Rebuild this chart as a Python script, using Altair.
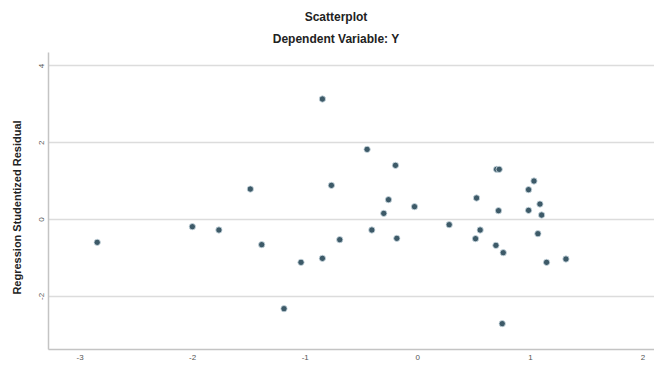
import altair as alt
import pandas as pd

x_vals = [-0.843, -1.483, -0.763, -2.843, -1.998, -1.762, -1.382, -0.689, -1.033, -0.843, -1.184,
          -0.446, -0.194, 0.704, 0.727, 1.036, 0.988, -0.256, -0.025, -0.298, 0.526, 0.721,
          0.988, 1.089, 1.104, -0.404, -0.182, 0.283, 0.558, 0.517, 1.071, 0.698, 0.763,
          1.148, 1.320, 0.754]
y_vals = [3.125, 0.781, 0.877, -0.607, -0.200, -0.286, -0.668, -0.538, -1.128, -1.024, -2.335,
          1.814, 1.398, 1.294, 1.294, 0.990, 0.764, 0.503, 0.321, 0.148, 0.547, 0.217,
          0.226, 0.390, 0.104, -0.286, -0.503, -0.148, -0.286, -0.512, -0.382, -0.686, -0.877,
          -1.128, -1.042, -2.725]
x_ticks = [-3, -2, -1, 0, 1, 2]
y_ticks = [-2, 0, 2, 4]

df = pd.DataFrame({"x": x_vals, "y": y_vals})

chart = alt.Chart(df).mark_circle(
    size=40, color="#3d5a68", opacity=1, stroke="#cfdde4", strokeWidth=0.8
).encode(
    x=alt.X("x:Q", scale=alt.Scale(domain=[-3.28, 2.102], nice=False, zero=False),
            axis=alt.Axis(values=x_ticks, title=None, grid=False, ticks=False,
                          labelExpr="'' + datum.value",
                          labelPadding=4, labelFontSize=8, labelColor="#555555",
                          domainColor="#c4c4c4", domainWidth=1.5, labelFont="Liberation Sans")),
    y=alt.Y("y:Q", scale=alt.Scale(domain=[-3.385, 4.35], nice=False, zero=False),
            axis=alt.Axis(values=y_ticks, title="Regression Studentized Residual",
                          labelExpr="'' + datum.value",
                          grid=True, gridColor="#dcdcdc", gridWidth=1.5, ticks=False,
                          labelAngle=270, labelAlign="center", labelBaseline="middle",
                          labelPadding=7, labelFontSize=8, labelColor="#555555",
                          labelFont="Liberation Sans",
                          domainColor="#c4c4c4", domainWidth=1.5,
                          titleFont="Liberation Sans", titleFontSize=11, titleFontWeight="bold",
                          titleColor="#222222", titleAngle=270, titleAlign="center",
                          titleBaseline="middle", titleX=-31, titleY=155)),
).properties(
    width=606, height=297,
    title=alt.TitleParams(text="Scatterplot", subtitle="Dependent Variable: Y",
                          font="Liberation Sans", fontSize=12, fontWeight="bold", color="#222222",
                          subtitleFont="Liberation Sans", subtitleFontSize=12,
                          subtitleFontWeight="bold", subtitleColor="#222222",
                          subtitlePadding=10, anchor="middle", dx=-15, offset=6),
    autosize=alt.AutoSizeParams(type="none"),
    padding={"left": 40, "top": 44, "right": 0, "bottom": 14},
).configure_view(stroke=None)

chart.save("out.html", embed_options={"renderer": "svg", "actions": False})
